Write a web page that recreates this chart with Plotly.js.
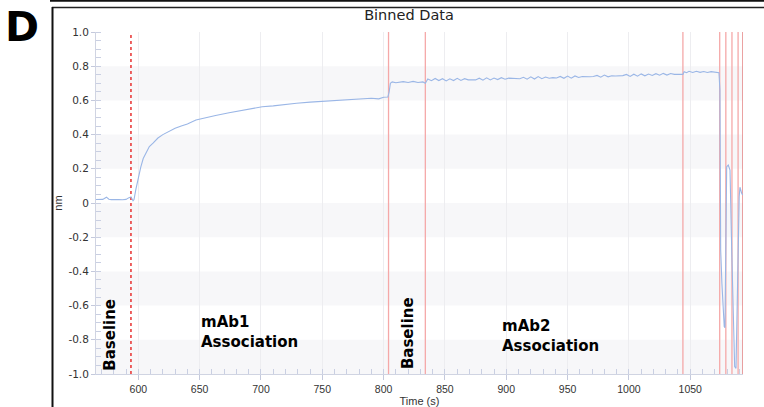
<!DOCTYPE html>
<html>
<head>
<meta charset="utf-8">
<script src="https://cdn.plot.ly/plotly-3.0.1.min.js"></script>
<style>html,body{margin:0;padding:0;background:#fff;}#chart{width:764px;height:407px;}</style>
</head>
<body>
<div id="chart"></div>
<script>
// ---- Data ----
const baselineTime = [565, 568, 571, 574, 576, 578, 581, 584, 587, 590, 592, 594, 595.7];
const baselineNm   = [0.02, 0.022, 0.021, 0.034, 0.022, 0.02, 0.018, 0.02, 0.019, 0.021, 0.03, 0.036, 0.013];

const assoc1Time = [596.5, 598, 600, 602, 604, 606, 609, 612, 616, 620, 625, 630, 635, 640, 647, 655, 663, 674, 685, 695, 701, 710, 720, 729, 740, 750, 756, 765, 775, 783, 790, 796, 800, 803.5];
const assoc1Nm   = [0.02, 0.08, 0.15, 0.21, 0.26, 0.29, 0.33, 0.35, 0.38, 0.40, 0.42, 0.437, 0.45, 0.462, 0.485, 0.50, 0.512, 0.528, 0.541, 0.552, 0.563, 0.568, 0.577, 0.583, 0.59, 0.594, 0.599, 0.60, 0.606, 0.608, 0.613, 0.609, 0.618, 0.62];

const base2Time = [804.5, 805.5, 807, 810, 813, 816, 820, 824, 828, 832, 834];
const base2Nm   = [0.65, 0.70, 0.708, 0.703, 0.706, 0.71, 0.705, 0.711, 0.705, 0.708, 0.70];

const assoc2Time = [836, 839, 842, 845, 848, 851, 854, 857, 860, 863, 866, 869, 872, 875, 878, 881, 884, 887, 890, 893, 896, 899, 902, 905, 908, 911, 914, 917, 920, 923, 926, 929, 932, 935, 938, 941, 944, 947, 950, 953, 956, 959, 962, 965, 968, 971, 974, 977, 980, 983, 986, 989, 992, 995, 998, 1001, 1004, 1007, 1010, 1013, 1016, 1019, 1022, 1025, 1028, 1031, 1034, 1037, 1040, 1043];
const assoc2Nm   = [0.725, 0.715, 0.728, 0.716, 0.727, 0.714, 0.726, 0.716, 0.729, 0.717, 0.727, 0.72, 0.722, 0.72, 0.73, 0.718, 0.732, 0.72, 0.731, 0.722, 0.733, 0.724, 0.73, 0.728, 0.729, 0.727, 0.735, 0.724, 0.738, 0.725, 0.739, 0.727, 0.737, 0.73, 0.733, 0.731, 0.74, 0.729, 0.742, 0.73, 0.743, 0.734, 0.74, 0.737, 0.738, 0.74, 0.746, 0.736, 0.748, 0.738, 0.744, 0.743, 0.744, 0.745, 0.752, 0.74, 0.753, 0.742, 0.755, 0.744, 0.754, 0.746, 0.756, 0.747, 0.758, 0.748, 0.757, 0.752, 0.753, 0.752];

const dissocTime = [1044, 1045, 1047, 1049, 1052, 1055, 1058, 1061, 1064, 1067, 1070, 1073.4];
const dissocNm   = [0.752, 0.768, 0.762, 0.77, 0.763, 0.77, 0.764, 0.769, 0.763, 0.768, 0.764, 0.762];

const regenTime = [1074.2, 1074.8, 1075.8, 1076.9, 1077.7, 1078.3, 1079.1, 1079.7, 1081, 1082.4, 1083.8, 1085.1, 1086.2, 1087.3, 1088.3, 1089.1, 1089.9, 1090.5, 1091.9, 1092.7];
const regenNm   = [0.661, -0.275, -0.47, -0.665, -0.723, -0.73, -0.08, 0.212, 0.222, 0.193, -0.275, -0.76, -0.957, -0.967, -0.665, -0.275, 0.037, 0.092, 0.057, 0.047];

const stepTimes = [594, 804, 834, 1044, 1074, 1079, 1084, 1089, 1093];
const stepLabelX = [577, 649.5, 820, 895];
const stepLabelY = [-0.77, -0.755, -0.76, -0.78];
const stepLabelText = ["Baseline", "mAb1<br>Association", "Baseline", "mAb2<br>Association"];
const yTickVals = [-1, -0.8, -0.6, -0.4, -0.2, 0, 0.2, 0.4, 0.6, 0.8, 1];
const yTickText = ["-1.0", "-0.8", "-0.6", "-0.4", "-0.2", "0", "0.2", "0.4", "0.6", "0.8", "1.0"];
const xTickVals = [600, 650, 700, 750, 800, 850, 900, 950, 1000, 1050];
const bandLow  = [-1, -0.6, -0.2, 0.2, 0.6];
const bandHigh = [-0.8, -0.4, 0, 0.4, 0.8];

// ---- Build ----
const time = [].concat(baselineTime, assoc1Time, base2Time, assoc2Time, dissocTime, regenTime);
const nm = [].concat(baselineNm, assoc1Nm, base2Nm, assoc2Nm, dissocNm, regenNm);

const shapes = [];
bandLow.forEach((lo, i) => shapes.push({type:'rect', xref:'paper', yref:'y', x0:0, x1:1, y0:lo, y1:bandHigh[i],
  fillcolor:'#f7f7f9', line:{width:0}, layer:'below'}));

stepTimes.forEach((t, i) => {
  const first = i === 0;
  const last = i === stepTimes.length - 1;
  shapes.push({type:'line', xref:'x', yref:'paper', x0:t, x1:t, y0:0, y1:1,
    line:{color: first ? '#e83030' : (last ? '#e07070' : '#f5a8a8'), width: first ? 1.5 : 1.3, dash: first ? 'dot' : 'solid'},
    layer:'between'});
});

// outer figure frame
const px = v => (v - 96) / 647;
const py = v => (374 - v) / 342;
shapes.push({type:'line', xref:'paper', yref:'paper', x0:px(50), x1:px(764), y0:py(0.8), y1:py(0.8), line:{color:'#111', width:2}});
shapes.push({type:'line', xref:'paper', yref:'paper', x0:px(52), x1:px(770), y0:py(7.5), y1:py(7.5), line:{color:'#222', width:1.5}});
shapes.push({type:'line', xref:'paper', yref:'paper', x0:px(52.5), x1:px(52.5), y0:py(7), y1:py(410), line:{color:'#111', width:2}});

const annotations = stepLabelText.map((txt, i) => {
  const rotated = txt === "Baseline";
  return {
    x: stepLabelX[i], y: stepLabelY[i], xref:'x', yref:'y', text: txt, showarrow:false,
    textangle: rotated ? -90 : 0, xanchor: rotated ? 'center' : 'left', yanchor:'middle', align:'left',
    font:{family:'DejaVu Sans, sans-serif', size:15, color:'#000', weight:'bold'}
  };
});
annotations.push({x: px(22), y: py(27), xref:'paper', yref:'paper', text:'<b>D</b>', showarrow:false,
  xanchor:'center', yanchor:'middle', font:{family:'DejaVu Sans, sans-serif', size:41, color:'#000'}});

const trace = {
  x: time, y: nm, type:'scatter', mode:'lines',
  line:{color:'#9ab6e6', width:1.1}, hoverinfo:'skip'
};

const layout = {
  width:764, height:407,
  margin:{l:96, r:21, t:32, b:33, pad:0},
  paper_bgcolor:'#fff', plot_bgcolor:'#fff',
  font:{family:'Liberation Sans, Arial, sans-serif', color:'#333'},
  showlegend:false,
  title:{text:'Binned Data', x:(409-96)/647, xref:'paper', xanchor:'center', y:1-15/407, yref:'container', yanchor:'middle',
    font:{family:'DejaVu Sans, sans-serif', size:14.5, color:'#222'}},
  xaxis:{
    range:[565.5, 1093], tickmode:'array', tickvals:xTickVals,
    showgrid:true, gridcolor:'#ededf0', gridwidth:1, zeroline:false,
    showline:true, linecolor:'#d0d4e2', linewidth:1,
    ticks:'outside', ticklen:5, tickcolor:'#c4c9dc',
    minor:{dtick:10, ticks:'inside', ticklen:5, tickcolor:'#c9cfe2', showgrid:false},
    tickfont:{size:10.5, color:'#333', family:'Liberation Sans, Arial, sans-serif'},
    title:{text:'Time (s)', font:{size:11, color:'#333'}, standoff:0}
  },
  yaxis:{
    range:[-1, 1], tickmode:'array', tickvals:yTickVals, ticktext:yTickText,
    showgrid:false, zeroline:false,
    showline:true, linecolor:'#d0d4e2', linewidth:1,
    ticks:'outside', ticklen:4, tickcolor:'#c4c9dc',
    minor:{dtick:0.05, ticks:'inside', ticklen:5, tickcolor:'#c9cfe2', showgrid:false},
    tickfont:{size:10.5, color:'#333', family:'DejaVu Sans, sans-serif'},
    title:{text:'nm', font:{size:11, color:'#333'}, standoff:3}
  },
  shapes: shapes,
  annotations: annotations
};

Plotly.newPlot('chart', [trace], layout, {staticPlot:true, displayModeBar:false});
</script>
</body>
</html>
